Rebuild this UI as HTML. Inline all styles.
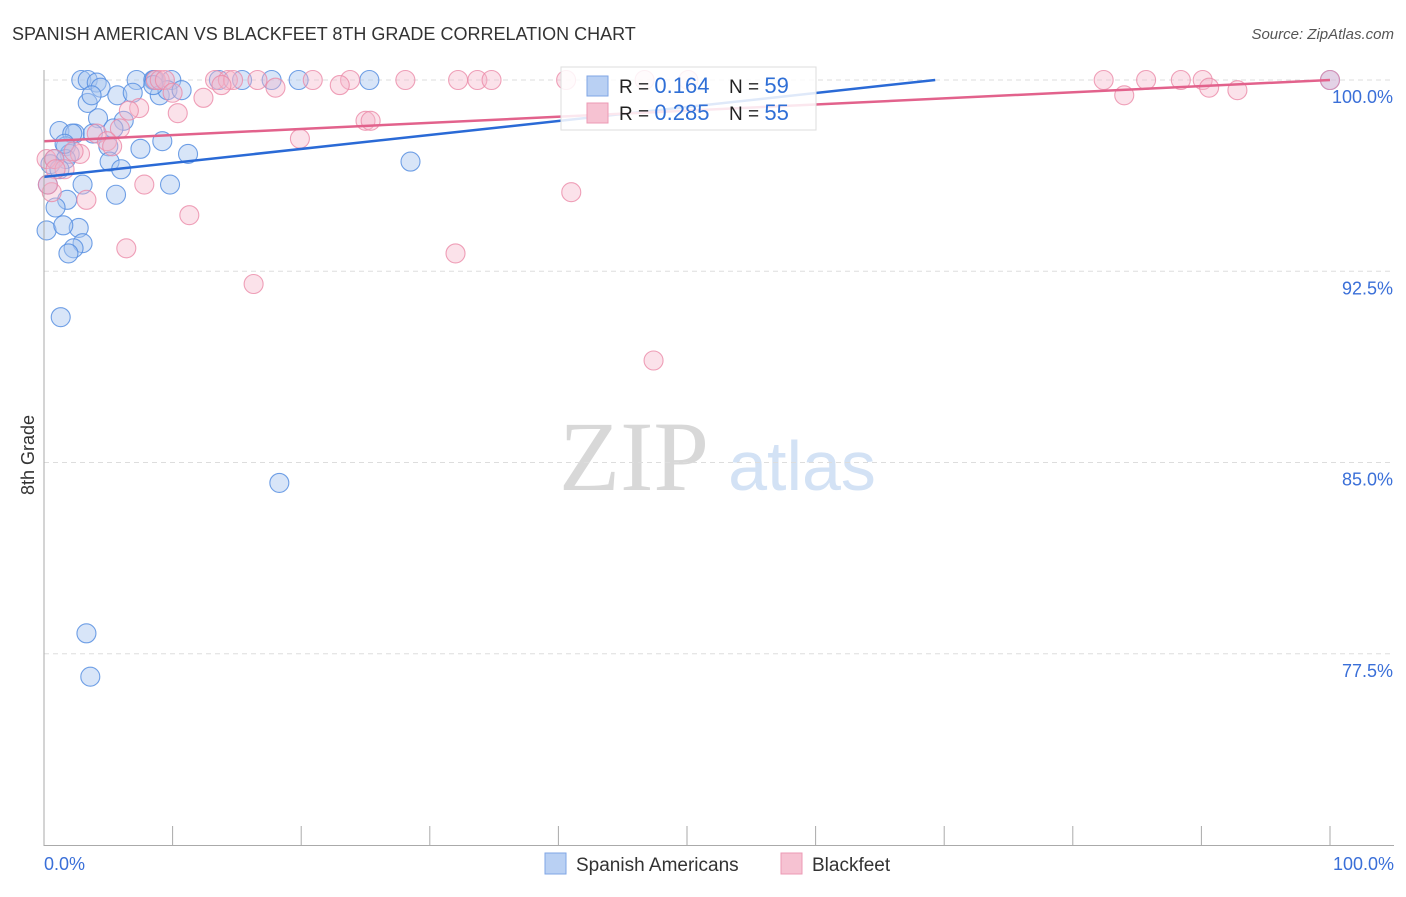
<!DOCTYPE html>
<html><head><meta charset="utf-8"><style>
body{margin:0;background:#fff;font-family:"Liberation Sans",sans-serif;}
</style></head><body>
<svg id="c" width="1406" height="892" font-family="Liberation Sans, sans-serif">
<text x="12" y="40" font-size="18" fill="#333">SPANISH AMERICAN VS BLACKFEET 8TH GRADE CORRELATION CHART</text>
<text x="1394" y="39" font-size="15" fill="#555" text-anchor="end" font-style="italic">Source: ZipAtlas.com</text>
<text x="634" y="490" font-size="100" fill="#d8d8d8" style="font-family:'Liberation Serif',serif" text-anchor="middle">ZIP</text>
<text x="802" y="490" font-size="70" fill="#d3e2f5" text-anchor="middle">atlas</text>
<text x="34" y="455" font-size="18" fill="#333" text-anchor="middle" transform="rotate(-90 34 455)">8th Grade</text>
<g id="grid"></g><g id="pts"></g><g id="lines"></g>
<line x1="44" y1="70" x2="44" y2="846" stroke="#aaa"/>
<line x1="44" y1="845.5" x2="1394" y2="845.5" stroke="#aaa"/>
<text x="44" y="870" font-size="18" fill="#3a6fd8">0.0%</text>
<text x="1394" y="870" font-size="18" fill="#3a6fd8" text-anchor="end">100.0%</text>
<g>
<rect x="561" y="67" width="255" height="63" fill="#fff" fill-opacity="0.85" stroke="#ddd"/>
<rect x="587" y="76" width="21" height="20" fill="#b9d0f3" stroke="#7fa6e6"/>
<rect x="587" y="103" width="21" height="20" fill="#f6c2d2" stroke="#ec9ab4"/>
<text x="619" y="93" font-size="19" fill="#222">R = <tspan fill="#2f6fd6" font-size="22">0.164</tspan><tspan x="729">N = </tspan><tspan fill="#2f6fd6" font-size="22">59</tspan></text>
<text x="619" y="120" font-size="19" fill="#222">R = <tspan fill="#2f6fd6" font-size="22">0.285</tspan><tspan x="729">N = </tspan><tspan fill="#2f6fd6" font-size="22">55</tspan></text>
</g>
<g>
<rect x="545" y="853" width="21" height="21" fill="#b9d0f3" stroke="#7fa6e6"/>
<text x="576" y="871" font-size="19" fill="#333">Spanish Americans</text>
<rect x="781" y="853" width="21" height="21" fill="#f6c2d2" stroke="#ec9ab4"/>
<text x="812" y="871" font-size="19" fill="#333">Blackfeet</text>
</g>
</svg>
<script>
const yTicks=[100,92.5,85,77.5];
const yTickLabels=["100.0%","92.5%","85.0%","77.5%"];
const xTicks=[10,20,30,40,50,60,70,80,90,100];
const blueX=[2.9,3.4,4.1,4.4,7.2,8.5,8.6,9.9,9.0,9.6,10.7,13.6,15.4,17.7,19.8,25.3,5.7,6.9,3.4,4.2,6.2,5.4,1.2,2.4,2.2,3.8,1.7,2.0,5.0,7.5,9.2,11.2,5.1,0.8,1.7,0.5,1.2,6.0,0.3,3.0,9.8,5.6,28.5,1.8,0.9,0.2,2.7,1.5,3.0,2.3,1.9,1.3,18.3,3.3,3.6,100,1.6,3.7,8.5];
const blueY=[100,100,99.9,99.7,100,100,100,100,99.4,99.6,99.6,100,100,100,100,100,99.4,99.5,99.1,98.5,98.4,98.1,98.0,97.9,97.9,97.9,97.4,97.1,97.4,97.3,97.6,97.1,96.8,96.9,96.9,96.7,96.5,96.5,95.9,95.9,95.9,95.5,96.8,95.3,95.0,94.1,94.2,94.3,93.6,93.4,93.2,90.7,84.2,78.3,76.6,100,97.5,99.4,99.8];
const pinkX=[8.7,9.0,9.4,13.3,14.3,14.7,16.6,20.9,23.8,28.1,32.2,33.7,34.8,40.6,46.7,50.1,82.4,85.7,88.4,90.1,100,84.0,90.6,92.8,13.8,18.0,23.0,10.0,12.4,7.4,6.6,10.4,25.0,25.4,19.9,4.1,5.9,4.9,2.8,5.3,0.2,0.8,1.6,7.8,3.3,41.0,11.3,6.4,32.0,16.3,47.4,0.6,0.9,0.3,2.3];
const pinkY=[100,100,100,100,100,100,100,100,100,100,100,100,100,100,100,100,100,100,100,100,100,99.4,99.7,99.6,99.8,99.7,99.8,99.5,99.3,98.9,98.8,98.7,98.4,98.4,97.7,97.9,98.1,97.6,97.1,97.4,96.9,96.9,96.5,95.9,95.3,95.6,94.7,93.4,93.2,92.0,89.0,95.6,96.5,95.9,97.2];
const NS='http://www.w3.org/2000/svg';
const xs=v=>44+v*12.86, ys=v=>80+(100-v)*25.5;
function mk(t,a,p){const e=document.createElementNS(NS,t);for(const k in a)e.setAttribute(k,a[k]);p.appendChild(e);return e;}
const grid=document.getElementById('grid');
yTicks.forEach((v,i)=>{
 const l=mk('line',{x1:44,x2:1394,y1:ys(v),y2:ys(v),stroke:'#ddd','stroke-dasharray':'5,4'},grid);
 
 
 const t=mk('text',{x:1393,y:ys(v)+23,'font-size':18,fill:'#3a6fd8','text-anchor':'end'},grid);
 t.textContent=yTickLabels[i];
 
 
});
xTicks.forEach(v=>{
 const l=mk('line',{x1:xs(v),x2:xs(v),y1:826,y2:846,stroke:'#aaa'},grid);
 
 
});
const pts=document.getElementById('pts');
blueX.forEach((x,i)=>{
 const c=mk('circle',{cx:xs(x),cy:ys(blueY[i]),r:9.5,fill:'#a9c6f0','fill-opacity':0.45,stroke:'#4f8ae0','stroke-opacity':0.8,'stroke-width':1.1},pts);
 
 
});
pinkX.forEach((x,i)=>{
 const c=mk('circle',{cx:xs(x),cy:ys(pinkY[i]),r:9.5,fill:'#f6b6ca','fill-opacity':0.4,stroke:'#eb8aa8','stroke-opacity':0.8,'stroke-width':1.1},pts);
 
 
});
const lines=document.getElementById('lines');
const bl=mk('line',{x1:xs(0),y1:ys(96.2),x2:xs(69.3),y2:ys(100),stroke:'#2a6ad6','stroke-width':2.5},lines);


const pl=mk('line',{x1:xs(0),y1:ys(97.6),x2:xs(100),y2:ys(100),stroke:'#e2628c','stroke-width':2.5},lines);


</script>
</body></html>
